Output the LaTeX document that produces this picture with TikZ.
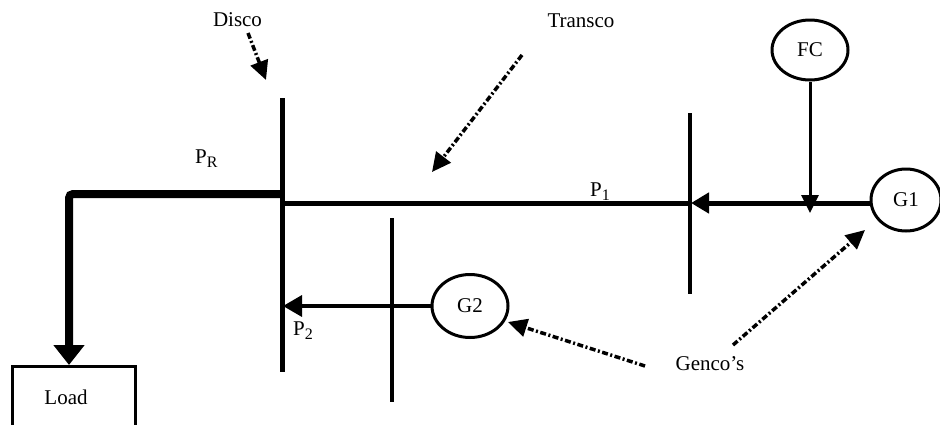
\documentclass[tikz,border=0pt]{standalone}
\usepackage{fontspec}
\setmainfont{Liberation Serif}
\usetikzlibrary{arrows.meta,shapes.geometric}
\newcommand{\Psub}[1]{P\raisebox{-4pt}{\fontsize{16}{16}\selectfont #1}}
\begin{document}
\begin{tikzpicture}[x=1pt,y=-1pt,
  lbl/.style={font=\fontsize{21}{25}\selectfont, inner sep=0pt},
  gen/.style={draw, ellipse, line width=3pt, inner sep=0pt, font=\fontsize{21}{25}\selectfont},
  bus/.style={line width=3.5pt},
  busthick/.style={line width=5pt},
  flow/.style={line width=3.5pt, -{Triangle[length=19pt,width=21pt]}},
  pointer/.style={line width=3.5pt, dash pattern=on 6pt off 2.5pt on 2pt off 2.5pt, -{Triangle[length=19pt,width=18pt]}},
  loadbox/.style={draw, line width=3pt, inner sep=0pt}]
\useasboundingbox (0,0) rectangle (940,424);

% labels
\node[lbl, anchor=base] (disco) at (237.5,26) {Disco};
\node[lbl, anchor=base] (transco) at (581,27) {Transco};
\node[lbl, anchor=base] (gencos) at (710,370) {Genco’s};
\node[lbl, anchor=base west] (pr) at (195,163) {\Psub{R}};
\node[lbl, anchor=base west] (p1) at (590,196) {\Psub{1}};
\node[lbl, anchor=base west] (p2) at (293,335) {\Psub{2}};

% generators
\node[gen, minimum width=76pt, minimum height=60pt] (fc) at (810,50) {FC};
\node[gen, minimum width=70pt, minimum height=62pt] (g1) at (906,200) {G1};
\node[gen, minimum width=76pt, minimum height=63pt] (g2) at (470,306) {G2};

% load
\node[loadbox, minimum width=123pt, minimum height=70pt, anchor=north] (load) at (73.5,365) {};
\node[lbl, anchor=base] (loadtxt) at (66,404) {Load};

% buses
\coordinate (discoT) at (282,98);
\coordinate (discoB) at (282,372);
\coordinate (bus2T) at (690,113);
\coordinate (bus2B) at (690,294);
\coordinate (bus3T) at (392,218);
\coordinate (bus3B) at (392,402);
\draw[busthick] (discoT) -- (discoB);
\draw[bus] (bus2T) -- (bus2B);
\draw[bus] (bus3T) -- (bus3B);

% connection points
\coordinate (b0) at (282,194);
\coordinate (b1) at (282,203);
\coordinate (b2) at (283,306);
\coordinate (m2) at (691,203);
\coordinate (prc) at (69,194);
\coordinate (fctip) at (810,213);

% lines
\draw[line width=8pt, rounded corners=4pt, -{Triangle[length=20pt,width=30pt]}]
  (b0) -- (prc) -- (prc |- load.north);
\draw[line width=5pt] (b1) -- (m2);
\draw[line width=5pt, -{Triangle[length=18pt,width=20pt]}] (g1.west |- b1) -- (m2);
\draw[line width=3pt, -{Triangle[length=18pt,width=17pt]}] (fc.south) -- (fctip);
\draw[flow] (g2.west) -- (b2);

% pointer arrows
\coordinate (dA) at (248,33);
\coordinate (dB) at (266,80);
\coordinate (tA) at (522,55);
\coordinate (tB) at (432,172);
\coordinate (gA) at (645,366);
\coordinate (gB) at (508,322);
\coordinate (hA) at (733,345);
\coordinate (hB) at (865,230);
\draw[pointer] (dA) -- (dB);
\draw[pointer] (tA) -- (tB);
\draw[pointer] (gA) -- (gB);
\draw[pointer] (hA) -- (hB);
\end{tikzpicture}
\end{document}
